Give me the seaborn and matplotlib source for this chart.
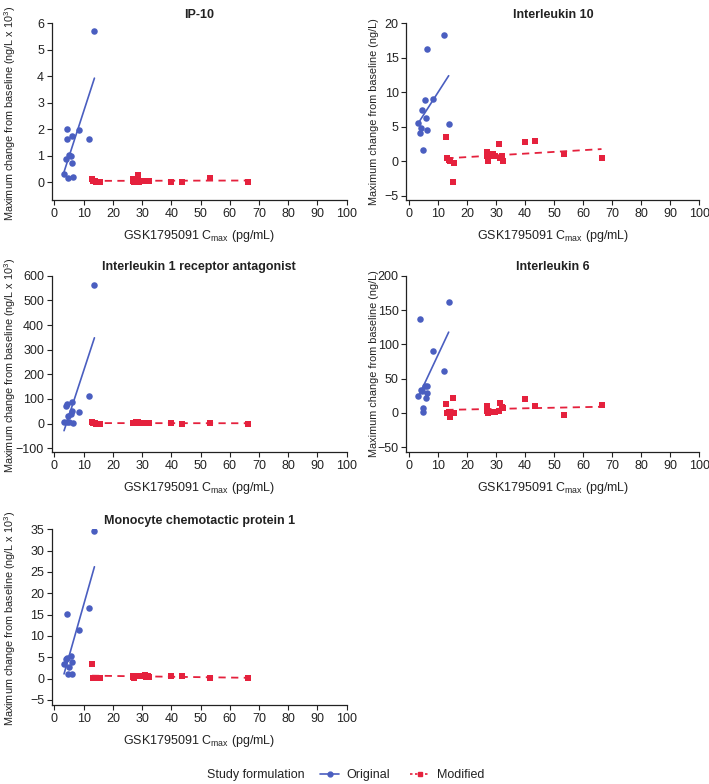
import numpy as np
import pandas as pd
import matplotlib
matplotlib.use('Agg')
import matplotlib.pyplot as plt
from matplotlib.lines import Line2D
import seaborn as sns

# Cmax (pg/mL) for each subject, per formulation
orig_x = [3.3, 4.0, 4.2, 4.4, 4.7, 5.0, 5.7, 5.9, 6.1, 6.2, 8.4, 12.0, 13.7]
mod_x = [12.9, 13.2, 13.8, 14.3, 15.2, 15.7, 26.8, 27.0, 27.3, 27.8, 28.5,
         29.0, 29.5, 31.0, 31.4, 32.0, 32.4, 40.0, 43.5, 53.3, 66.3]

# maximum change from baseline
ip10_orig = [0.29, 0.87, 1.99, 1.61, 0.14, 1.02, 0.99, 0.73, 1.76, 0.18, 1.95, 1.64, 5.71]
ip10_mod = [0.12, 0.03, 0.05, 0.0, 0.02, 0.0, 0.12, 0.05, 0.02, 0.04, 0.26,
            0.01, 0.03, 0.04, 0.03, 0.05, 0.04, 0.02, 0.0, 0.15, 0.02]

il10_orig = [5.56, 4.06, 4.83, 7.39, 1.64, np.nan, 8.89, 6.33, 16.3, 4.49, 9.08, 18.3, 5.46]
il10_mod = [3.5, 0.5, 0.2, 0.0, -3.0, -0.2, 1.3, 0.7, 0.0, 0.7, 1.0,
            1.05, 0.8, 2.45, 0.5, 0.7, 0.0, 2.85, 3.0, 1.0, 0.4]

il1ra_orig = [5, 72, 78, 5, 30, 8, 38, 53, 88, 2, 46, 113, 564]
il1ra_mod = [5, 2, 1, 0, 0, 0, 2, 3, 1, 5, 8, 3, 2, 2, 1, 1, 1, 2, 0, 3, 0]

il6_orig = [25, 137, 33, 31.5, 2, 7, 39, 21, 39, 29.5, 90.5, 60.5, 162]
il6_mod = [13.0, -0.5, 2, -6.3, 22.3, 0, 9.7, 3.4, 0.5, 2, 1, 1.5, 1, 3,
           14.5, 8.2, 7.5, 19.9, 10.2, -2.9, 11.1]

mcp1_orig = [3.5, 4.5, 15.2, 4.9, 1.0, 2.7, 5.2, 3.8, 1.0, np.nan, 11.4, 16.5, 34.6]
mcp1_mod = [3.4, 0.1, 0.1, 0.1, 0.1, 0.1, 0.6, 0.3, 0.2, 0.5, 0.7, 0.6, 0.5,
            0.9, 0.4, 0.5, 0.3, 0.6, 0.5, 0.2, 0.2]

titles = ['IP-10', 'Interleukin 10', 'Interleukin 1 receptor antagonist',
          'Interleukin 6', 'Monocyte chemotactic protein 1']
ylabel_k = 'Maximum change from baseline (ng/L x 10$^{\\mathregular{3}}$)'
ylabel_n = 'Maximum change from baseline (ng/L)'

sns.set_style('ticks')
plt.rcParams['font.family'] = ['Liberation Sans', 'DejaVu Sans']
plt.rcParams['font.size'] = 9
plt.rcParams['text.color'] = '#222222'
plt.rcParams['axes.labelcolor'] = '#222222'
plt.rcParams['xtick.color'] = '#222222'
plt.rcParams['ytick.color'] = '#222222'

blue = '#4a5ec0'
red = '#e5213d'

panels = [
    (ip10_orig, ip10_mod, ylabel_k, (-0.67, 6), np.arange(0, 7, 1)),
    (il10_orig, il10_mod, ylabel_n, (-5.6, 20), np.arange(-5, 21, 5)),
    (il1ra_orig, il1ra_mod, ylabel_k, (-115, 600), np.arange(-100, 601, 100)),
    (il6_orig, il6_mod, ylabel_n, (-57, 200), np.arange(-50, 201, 50)),
    (mcp1_orig, mcp1_mod, ylabel_k, (-6.2, 35), np.arange(-5, 36, 5)),
]

# axes boxes [left, bottom, width, height] in figure fraction
boxes = [
    [0.073, 0.745, 0.416, 0.2255],
    [0.573, 0.745, 0.4135, 0.2255],
    [0.073, 0.4235, 0.416, 0.2248],
    [0.573, 0.4235, 0.4135, 0.2248],
    [0.073, 0.1008, 0.416, 0.2241],
]

fig = plt.figure(figsize=(7.09, 7.84), dpi=100)

for i, (yo, ym, ylab, ylim, yt) in enumerate(panels):
    ax = fig.add_axes(boxes[i])
    df_o = pd.DataFrame({'x': orig_x, 'y': yo})
    df_m = pd.DataFrame({'x': mod_x, 'y': ym})
    sns.regplot(data=df_o, x='x', y='y', ax=ax, ci=None, color=blue,
                marker='o', scatter_kws={'s': 22, 'alpha': 1, 'linewidths': 0},
                line_kws={'lw': 1.2})
    sns.regplot(data=df_m, x='x', y='y', ax=ax, ci=None, color=red,
                marker='s', scatter_kws={'s': 22, 'alpha': 1, 'linewidths': 0},
                line_kws={'lw': 1.3, 'ls': (0, (4, 3))})
    ax.set_xlim(-0.9, 100)
    ax.set_ylim(*ylim)
    ax.set_xticks(np.arange(0, 101, 10))
    ax.set_yticks(yt)
    ax.set_xlabel('GSK1795091 C$_{\\mathregular{max}}$ (pg/mL)', fontsize=9, labelpad=6)
    ax.set_ylabel(ylab, fontsize=7.8)
    if i % 2 == 0:
        ax.yaxis.set_label_coords(-0.115, 0.49)
    else:
        ax.yaxis.set_label_coords(-0.094, 0.5)
    ax.set_title(titles[i], fontsize=9, fontweight='bold', pad=4)
    ax.tick_params(labelsize=9, length=3.5, width=0.8, pad=2)
    for s in ['left', 'bottom']:
        ax.spines[s].set_linewidth(0.9)
        ax.spines[s].set_color('#222222')
    sns.despine(ax=ax)

handles = [
    Line2D([], [], color=blue, marker='o', markersize=3.5, lw=1.2, ls='-'),
    Line2D([], [], color=red, marker='s', markersize=3.5, lw=1.2, ls=(0, (1.5, 1.5))),
]
fig.text(0.292, 0.0115, 'Study formulation', fontsize=9, va='center', ha='left')
fig.legend(handles, ['Original', 'Modified'], loc='center left',
           bbox_to_anchor=(0.452, 0.0115), ncol=2, frameon=False, fontsize=9,
           handlelength=1.5, handletextpad=0.6, columnspacing=1.6,
           borderaxespad=0, borderpad=0)

fig.savefig('out.png', dpi=100)
